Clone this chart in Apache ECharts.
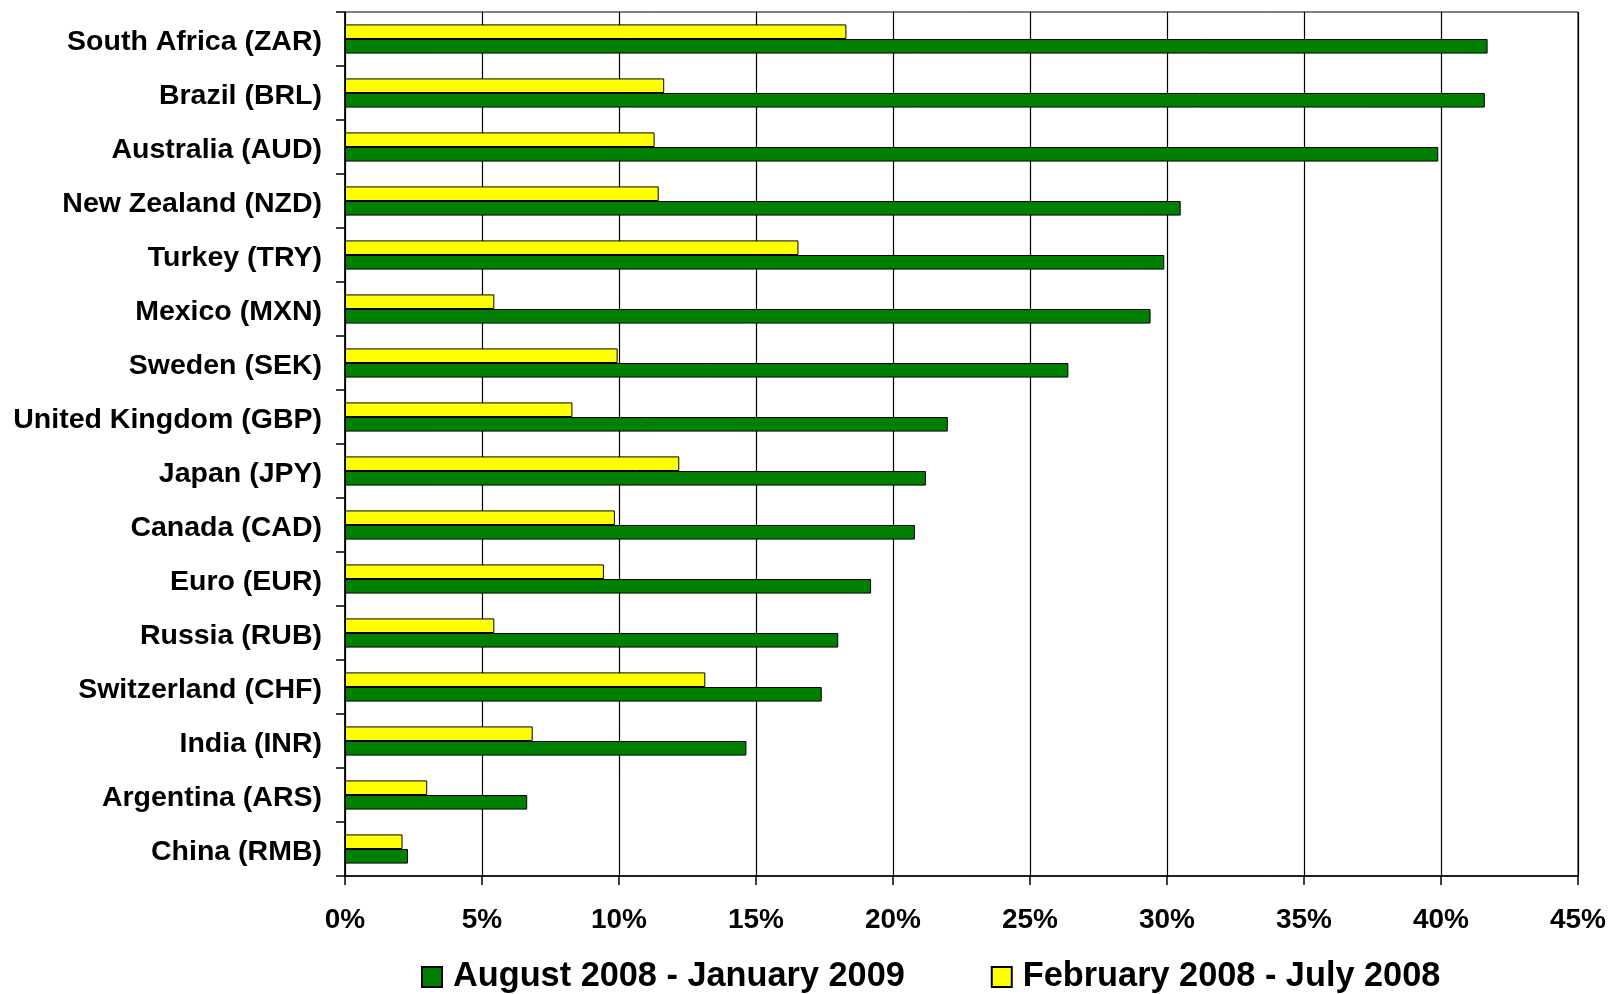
<!DOCTYPE html>
<html>
<head>
<meta charset="utf-8">
<script src="https://cdn.jsdelivr.net/npm/echarts@6/dist/echarts.min.js"></script>
<style>
html,body{margin:0;padding:0;background:#fff;}
#chart{width:1611px;height:994px;}
</style>
</head>
<body>
<div id="chart"></div>
<script>
const categories = [
  'South Africa (ZAR)', 'Brazil (BRL)', 'Australia (AUD)', 'New Zealand (NZD)',
  'Turkey (TRY)', 'Mexico (MXN)', 'Sweden (SEK)', 'United Kingdom (GBP)',
  'Japan (JPY)', 'Canada (CAD)', 'Euro (EUR)', 'Russia (RUB)',
  'Switzerland (CHF)', 'India (INR)', 'Argentina (ARS)', 'China (RMB)'
];
const augJan = [41.7, 41.6, 39.9, 30.5, 29.9, 29.4, 26.4, 22.0, 21.2, 20.8, 19.2, 18.0, 17.4, 14.65, 6.65, 2.3];
const febJul = [18.3, 11.65, 11.3, 11.45, 16.55, 5.45, 9.95, 8.3, 12.2, 9.85, 9.45, 5.45, 13.15, 6.85, 3.0, 2.1];
const seriesNames = ['August 2008 - January 2009', 'February 2008 - July 2008'];
const xTicks = { min: 0, max: 45, interval: 5 };

const FONT = '"Liberation Sans", Arial, sans-serif';
const chart = echarts.init(document.getElementById('chart'), null, { renderer: 'canvas' });
chart.setOption({
  animation: false,
  backgroundColor: '#ffffff',
  grid: {
    left: 345, right: 33, top: 12, bottom: 118,
    show: true, borderColor: '#000', borderWidth: 1, backgroundColor: 'transparent'
  },
  legend: {
    data: seriesNames,
    left: 421, top: 960, padding: 0,
    itemWidth: 20, itemHeight: 20, itemGap: 86,
    icon: 'rect',
    textStyle: { fontFamily: FONT, fontWeight: 'bold', fontSize: 34.3, color: '#000', padding: [0, 0, 0, 6] }
  },
  xAxis: {
    type: 'value',
    min: xTicks.min, max: xTicks.max, interval: xTicks.interval,
    axisLine: { show: true, lineStyle: { color: '#000', width: 1.5 } },
    axisTick: { show: true, length: 9, lineStyle: { color: '#000', width: 1.5 } },
    splitLine: { show: true, lineStyle: { color: '#000', width: 1.2 } },
    axisLabel: {
      formatter: '{value}%', margin: 30,
      fontFamily: FONT, fontWeight: 'bold', fontSize: 28, color: '#000'
    }
  },
  yAxis: {
    type: 'category',
    data: categories,
    inverse: true,
    axisLine: { show: true, lineStyle: { color: '#000', width: 1.5 } },
    axisTick: { show: true, length: 9, interval: 0, lineStyle: { color: '#000', width: 1.5 } },
    axisLabel: {
      interval: 0, margin: 23,
      formatter: '{a|{value}}',
      rich: {
        a: { fontFamily: FONT, fontWeight: 'bold', fontSize: 28.5, color: '#000', padding: [6, 0, 0, 0] }
      },
      fontFamily: FONT, fontWeight: 'bold', fontSize: 28.5, color: '#000'
    }
  },
  series: [
    {
      name: seriesNames[1], type: 'bar', data: febJul,
      barGap: '0%', barCategoryGap: '46%',
      itemStyle: { color: '#ffff00', borderColor: '#000', borderWidth: 1 }
    },
    {
      name: seriesNames[0], type: 'bar', data: augJan,
      barGap: '0%', barCategoryGap: '46%',
      itemStyle: { color: '#008000', borderColor: '#000', borderWidth: 1 }
    }
  ]
});
</script>
</body>
</html>
